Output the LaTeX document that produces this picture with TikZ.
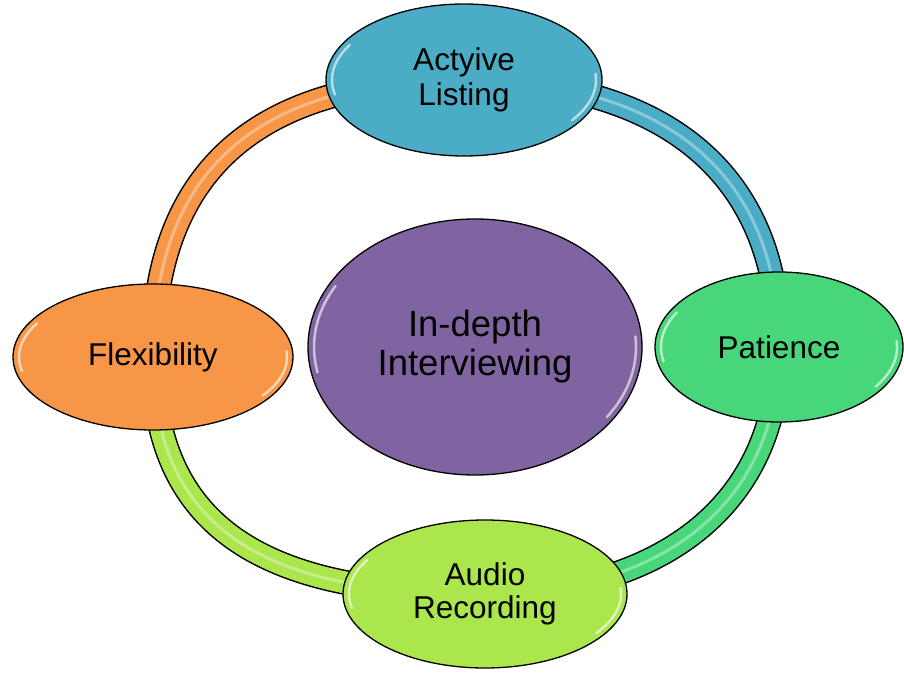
\documentclass[tikz,border=0pt]{standalone}
\usepackage{fontspec}
\setmainfont{Liberation Sans}
\usetikzlibrary{shapes.geometric,backgrounds}

\definecolor{cblue}{HTML}{4BACC6}
\definecolor{cgreen}{HTML}{48D67A}
\definecolor{clime}{HTML}{AAE64C}
\definecolor{corange}{HTML}{F79646}
\definecolor{cpurple}{HTML}{8064A2}

% soft white streaks inside an ellipse: node, x radius, y radius
\newcommand{\gloss}[3]{%
  \draw[gl] (#1.center) ++(150:#2 and #3) arc[start angle=150,end angle=192,x radius=#2,y radius=#3];
  \draw[gl] (#1.center) ++(-35:#2 and #3) arc[start angle=-35,end angle=5,x radius=#2,y radius=#3];}

\begin{document}
\begin{tikzpicture}[x=1pt,y=1pt]
 \tikzstyle{bub} = [ellipse, draw=black, line width=1.3pt, inner sep=0pt, align=center, font=\fontsize{31.5}{35}\selectfont]
 \tikzstyle{gl} = [white, line width=2.5pt, opacity=.6, line cap=round]
    %%
    \useasboundingbox (0,0) rectangle (904,672);

        \node[bub,fill=cpurple,minimum width=334,minimum height=256,font=\fontsize{36.5}{39}\selectfont] (idi) at (475,325) {In-depth\\Interviewing};
        \node[bub,fill=cblue,minimum width=276,minimum height=152] (lis) at (464,592) {Actyive\\Listing};
        \node[bub,fill=cgreen,minimum width=248,minimum height=150] (pat) at (779,325) {Patience};
        \node[bub,fill=clime,minimum width=284,minimum height=148,font=\fontsize{31.5}{33}\selectfont] (aud) at (485,78) {Audio\\Recording};
        \node[bub,fill=corange,minimum width=280,minimum height=146] (flx) at (153,315) {Flexibility};

        \gloss{idi}{161}{122}
        \gloss{lis}{132}{70}
        \gloss{pat}{118}{69}
        \gloss{aud}{136}{68}
        \gloss{flx}{134}{67}

    % the ring behind the bubbles
    \begin{pgfonlayer}{background}
    \foreach \a/\b/\o/\i/\c/\l in {flx/lis/90/180/corange/1.2, lis/pat/0/90/cblue/1.15, pat/aud/-90/0/cgreen/1.1, aud/flx/180/-90/clime/1.2} {
        \draw[line width=25pt] (\a.center) to[out=\o,in=\i,looseness=\l] (\b.center);
        \draw[line width=22pt,draw=\c] (\a.center) to[out=\o,in=\i,looseness=\l] (\b.center);
        \draw[line width=3pt,draw=white,opacity=.35] (\a.center) to[out=\o,in=\i,looseness=\l] (\b.center);
    }
    \end{pgfonlayer}

    \end{tikzpicture}
\end{document}
